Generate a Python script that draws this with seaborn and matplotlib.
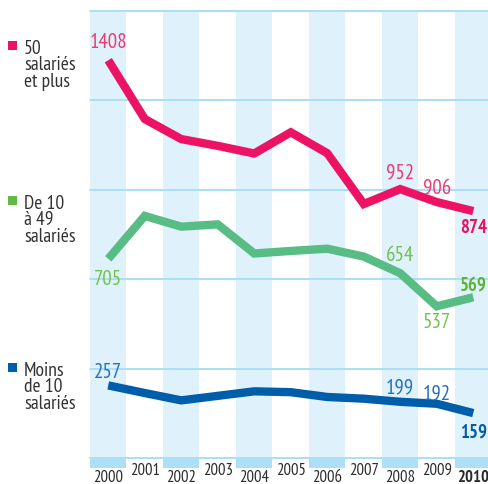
import seaborn as sns
import matplotlib.pyplot as plt
import pandas as pd
from matplotlib.patches import Rectangle
from matplotlib import transforms

W, H = 488, 485

years = list(range(2000, 2011))
big = [1408, 1200, 1129, 1105, 1078, 1153, 1079, 899, 952, 906, 874]     # 50 salariés et plus
mid = [705, 857, 819, 827, 724, 733, 741, 713, 654, 537, 569]            # De 10 à 49 salariés
small = [257, 230, 204, 220, 236, 233, 216, 210, 199, 192, 159]          # Moins de 10 salariés
series_names = ["50\nsalariés\net plus", "De 10\nà 49\nsalariés", "Moins\nde 10\nsalariés"]
labeled_years = [2000, 2008, 2009, 2010]

line_colors = ["#EC1365", "#58BD84", "#005DAA"]
text_colors = ["#EC3A74", "#72C24E", "#2770B8"]
bold_colors = ["#E8135F", "#5DB434", "#005DAA"]
key_colors = ["#EC1365", "#62B947", "#005DAA"]
band_color = "#DFF1FB"
grid_color = "#A9DFF6"
strip_color = "#ACE0F7"
dark = "#2B2B2B"
narrow = ["PT Sans Narrow", "DejaVu Sans"]

# label offsets in pixels (dy) for the annotated years
offsets = [
    [19, 17, 14, -16],
    [-20, 19, -15, 13],
    [14, 15, 11, -18],
]

df = pd.DataFrame({"year": years, "big": big, "mid": mid, "small": small})

sns.set_style("white")
plt.rcParams['font.family'] = narrow

fig = plt.figure(figsize=(W / 100, H / 100), dpi=100)

def px_axes(x0, y0, x1, y1):
    return fig.add_axes([x0 / W, 1 - y1 / H, (x1 - x0) / W, (y1 - y0) / H])

ax = px_axes(90, 12, 488, 459)
band_w = 36.5
xmax = years[0] - 0.5 + (488 - 90) / band_w
ymax = 447 * 3.54

for yr in years:
    if (yr - years[0]) % 2 == 0:
        ax.axvspan(yr - 0.5, yr + 0.5, color=band_color, lw=0, zorder=0)
for k in range(6):
    ax.axhline(ymax * k / 5, color=grid_color, lw=1.4, zorder=1, clip_on=False)

for col, lc in zip(["big", "mid", "small"], line_colors):
    sns.lineplot(data=df, x="year", y=col, ax=ax, color=lc, lw=6,
                 solid_joinstyle="miter", solid_capstyle="butt", zorder=3)

for col, tc, bc, offs in zip(["big", "mid", "small"], text_colors, bold_colors, offsets):
    for yr, dy in zip(labeled_years, offs):
        v = df.loc[df.year == yr, col].iloc[0]
        bold = yr == years[-1]
        ax.annotate(str(v), (yr, v), xytext=(0, dy), textcoords="offset pixels",
                    ha="center", va="center", color=bc if bold else tc,
                    fontsize=13.5 if bold else 15,
                    fontweight="bold" if bold else "normal", zorder=4)

ax.set_xlim(years[0] - 0.5, xmax)
ax.set_ylim(0, ymax)
ax.axis("off")

# bottom strip with years
axs = px_axes(90, 459, 488, 469)
axs.set_xlim(years[0] - 0.5, xmax)
axs.set_ylim(0, 1)
axs.axis("off")
tr = transforms.blended_transform_factory(axs.transData, axs.transAxes)
for yr in years:
    even = (yr - years[0]) % 2 == 0
    if even:
        axs.axvspan(yr - 0.5, yr + 0.5, color=strip_color, lw=0)
    axs.text(yr, -0.9 if even else -0.2, str(yr), transform=tr, ha="center", va="center",
             fontsize=12, color=dark, fontweight="bold" if yr == years[-1] else "normal")

# legend keys
key_centers = [46, 201, 368]
for name, kc, cy in zip(series_names, key_colors, key_centers):
    fig.add_artist(Rectangle((8 / W, 1 - (cy + 4.5) / H), 9 / W, 9 / H,
                             transform=fig.transFigure, color=kc, lw=0))
    fig.text(24 / W, 1 - (cy - 6) / H, name, ha="left", va="top", fontsize=14,
             color="#333333", linespacing=0.88)

fig.savefig("out.png", dpi=100)
